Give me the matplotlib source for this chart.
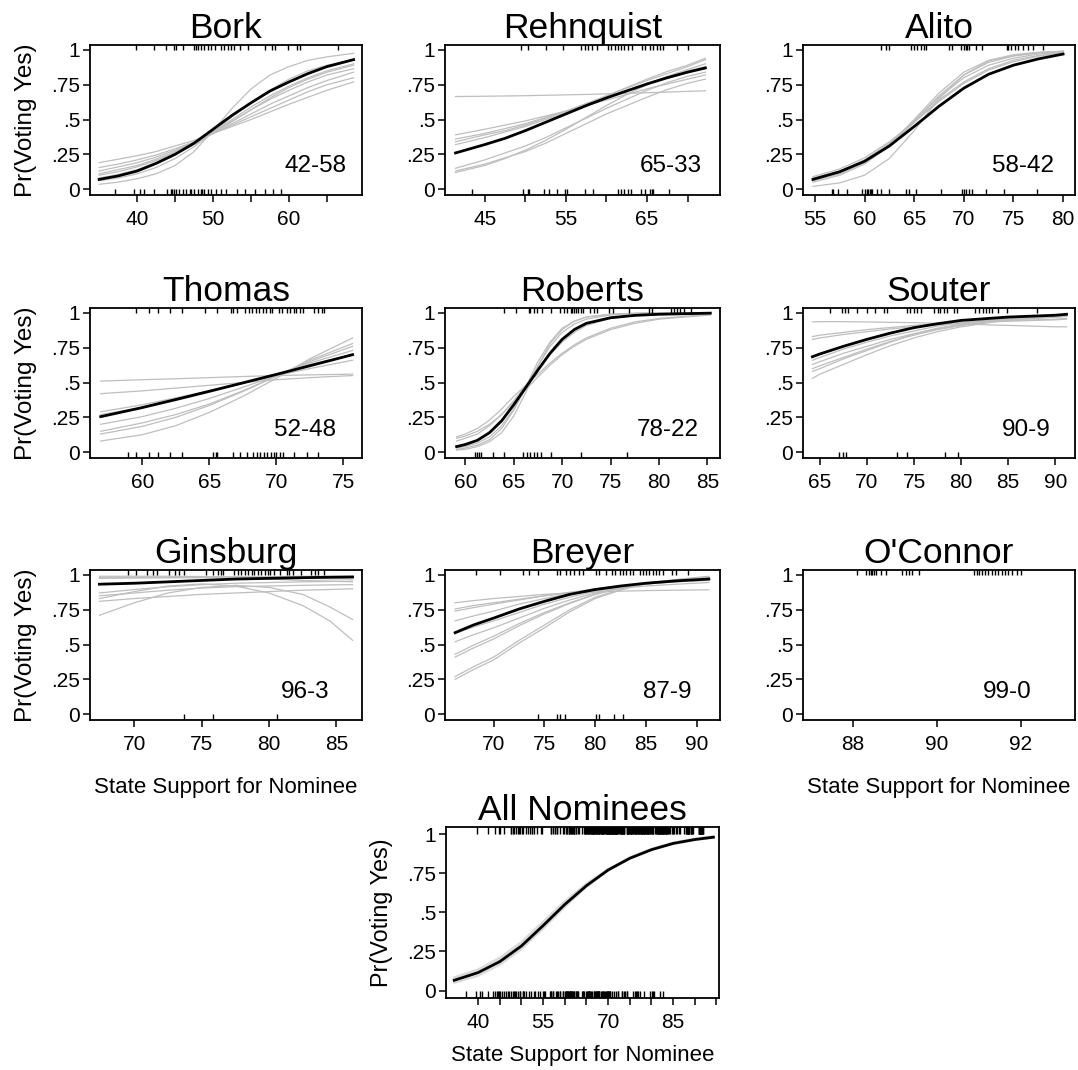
import numpy as np
import matplotlib
matplotlib.use("Agg")
import matplotlib.pyplot as plt

plt.rcParams['font.family'] = ['Liberation Sans', 'DejaVu Sans']

# ---- data ----
# Bork
bork_x = [35, 37.5, 40, 42.5, 45, 47.5, 50, 52.5, 55, 57.5, 60, 62.5, 65, 68.5]
bork_black = [0.07, 0.095, 0.13, 0.185, 0.25, 0.33, 0.43, 0.53, 0.62, 0.705, 0.77, 0.83, 0.88, 0.93]
bork_grey = [
    [0.035, 0.05, 0.075, 0.11, 0.17, 0.27, 0.42, 0.58, 0.72, 0.82, 0.88, 0.925, 0.95, 0.975],
    [0.06, 0.08, 0.11, 0.155, 0.22, 0.305, 0.41, 0.52, 0.62, 0.71, 0.79, 0.85, 0.89, 0.93],
    [0.08, 0.105, 0.14, 0.19, 0.25, 0.32, 0.41, 0.50, 0.59, 0.67, 0.74, 0.80, 0.85, 0.90],
    [0.10, 0.125, 0.16, 0.205, 0.26, 0.325, 0.40, 0.485, 0.57, 0.655, 0.73, 0.79, 0.84, 0.89],
    [0.11, 0.14, 0.17, 0.215, 0.27, 0.335, 0.41, 0.49, 0.57, 0.645, 0.71, 0.77, 0.82, 0.865],
    [0.13, 0.16, 0.19, 0.23, 0.28, 0.335, 0.40, 0.47, 0.54, 0.61, 0.67, 0.73, 0.78, 0.84],
    [0.155, 0.18, 0.21, 0.245, 0.29, 0.34, 0.40, 0.46, 0.52, 0.58, 0.64, 0.70, 0.75, 0.80],
    [0.19, 0.215, 0.24, 0.27, 0.31, 0.35, 0.40, 0.45, 0.50, 0.555, 0.61, 0.66, 0.71, 0.77],
]
bork_yes = [39.8, 42.2, 43.8, 44.9, 45.1, 46.0, 47.5, 47.7, 48.0, 48.4, 48.8, 49.3,
            49.7, 50.2, 51.1, 51.5, 51.9, 52.4, 52.8, 53.5, 54.6, 56.8, 57.7, 58.1,
            59.9, 61.0, 61.5, 66.5]
bork_no = [37.1, 39.6, 40.4, 40.9, 42.2, 44.0, 44.4, 44.6, 44.9, 45.1, 45.5, 46.0,
           46.4, 46.9, 47.1, 47.5, 48.0, 48.4, 48.6, 48.8, 49.3, 49.7, 50.4, 51.1,
           51.7, 53.1, 54.2, 55.5, 56.8, 57.9, 59.0]

# Rehnquist
rehnquist_x = [41.4, 45, 47.5, 50, 52.5, 55, 57.5, 60, 62.5, 65, 67.5, 70, 72.2]
rehnquist_black = [0.26, 0.32, 0.365, 0.42, 0.48, 0.54, 0.60, 0.655, 0.705, 0.755, 0.80, 0.84, 0.87]
rehnquist_grey = [
    [0.665, 0.667, 0.669, 0.671, 0.674, 0.677, 0.68, 0.684, 0.688, 0.692, 0.697, 0.702, 0.706],
    [0.39, 0.43, 0.46, 0.49, 0.525, 0.56, 0.60, 0.64, 0.68, 0.72, 0.755, 0.79, 0.82],
    [0.36, 0.40, 0.435, 0.47, 0.515, 0.56, 0.61, 0.66, 0.71, 0.76, 0.805, 0.85, 0.88],
    [0.34, 0.39, 0.42, 0.46, 0.51, 0.56, 0.615, 0.67, 0.725, 0.78, 0.83, 0.88, 0.93],
    [0.32, 0.37, 0.41, 0.45, 0.50, 0.55, 0.61, 0.67, 0.73, 0.79, 0.845, 0.89, 0.94],
    [0.15, 0.21, 0.26, 0.31, 0.37, 0.44, 0.51, 0.58, 0.645, 0.71, 0.765, 0.81, 0.84],
    [0.13, 0.18, 0.225, 0.27, 0.33, 0.40, 0.47, 0.54, 0.60, 0.66, 0.715, 0.76, 0.79],
    [0.12, 0.17, 0.22, 0.28, 0.35, 0.43, 0.515, 0.60, 0.68, 0.75, 0.81, 0.86, 0.90],
]
rehnquist_yes = [49.5, 50.3, 52.5, 54.7, 56.9, 57.3, 57.7, 58.2, 58.8, 60.2, 60.6,
                 61.0, 61.4, 61.8, 62.2, 62.6, 63.2, 64.4, 64.8, 65.4, 65.8, 66.2,
                 66.6, 67.0, 68.7, 70.1]
rehnquist_no = [43.4, 49.7, 50.3, 50.5, 52.3, 52.9, 53.9, 54.9, 55.1, 57.3, 58.4,
                61.4, 61.8, 62.2, 62.6, 63.0, 64.2, 64.8, 65.4, 65.6, 65.8, 67.7]

# Alito
alito_x = [54.8, 57.5, 60, 62.5, 65, 67.5, 70, 72.5, 75, 77.5, 80]
alito_black = [0.07, 0.125, 0.20, 0.31, 0.45, 0.595, 0.725, 0.825, 0.89, 0.935, 0.97]
alito_grey = [
    [0.02, 0.045, 0.10, 0.22, 0.42, 0.65, 0.82, 0.92, 0.96, 0.98, 0.99],
    [0.05, 0.10, 0.18, 0.31, 0.48, 0.66, 0.80, 0.89, 0.94, 0.97, 0.985],
    [0.07, 0.12, 0.20, 0.32, 0.49, 0.67, 0.82, 0.91, 0.955, 0.978, 0.99],
    [0.08, 0.13, 0.21, 0.33, 0.48, 0.64, 0.77, 0.865, 0.925, 0.96, 0.98],
    [0.06, 0.11, 0.19, 0.32, 0.50, 0.69, 0.84, 0.925, 0.965, 0.983, 0.99],
    [0.09, 0.145, 0.225, 0.34, 0.48, 0.63, 0.76, 0.855, 0.915, 0.955, 0.978],
]
alito_yes = [61.7, 62.2, 62.5, 64.7, 65.0, 65.3, 65.7, 66.0, 66.2, 68.5, 68.8, 69.7,
             70.0, 70.2, 70.3, 70.5, 71.2, 71.8, 74.3, 74.5, 74.8, 75.2, 75.5, 76.0,
             76.5, 77.0, 78.0]
alito_no = [56.7, 56.8, 57.3, 58.2, 59.7, 60.0, 60.2, 60.3, 60.5, 60.7, 60.8, 61.3,
            61.7, 62.5, 64.2, 64.5, 65.2, 67.7, 69.8, 70.0, 70.2, 70.5, 70.8, 72.2,
            74.0, 77.4]

# Thomas
thomas_x = [56.9, 60, 62.5, 65, 67.5, 70, 72.5, 75.7]
thomas_black = [0.255, 0.32, 0.378, 0.437, 0.497, 0.558, 0.62, 0.70]
thomas_grey = [
    [0.51, 0.52, 0.527, 0.535, 0.543, 0.55, 0.555, 0.56],
    [0.42, 0.44, 0.46, 0.48, 0.50, 0.52, 0.535, 0.55],
    [0.29, 0.34, 0.39, 0.44, 0.495, 0.55, 0.60, 0.66],
    [0.27, 0.32, 0.37, 0.43, 0.495, 0.56, 0.63, 0.70],
    [0.20, 0.255, 0.315, 0.385, 0.465, 0.55, 0.64, 0.73],
    [0.15, 0.21, 0.27, 0.345, 0.44, 0.545, 0.65, 0.76],
    [0.13, 0.185, 0.25, 0.335, 0.435, 0.545, 0.66, 0.78],
    [0.08, 0.125, 0.19, 0.285, 0.40, 0.53, 0.67, 0.82],
]
thomas_yes = [59.5, 60.5, 61.2, 62.1, 63.0, 64.7, 65.6, 66.6, 66.8, 67.1, 67.7, 68.0,
              68.2, 68.5, 68.7, 69.0, 69.2, 69.5, 69.7, 70.2, 70.4, 70.8, 71.0, 71.3,
              71.5, 71.8, 72.0, 72.8, 73.1, 73.4, 73.6]
thomas_no = [58.9, 59.5, 60.5, 61.2, 62.1, 63.0, 65.3, 65.5, 65.6, 66.8, 67.3, 67.8,
             68.3, 68.6, 68.8, 69.1, 69.3, 69.6, 69.8, 70.0, 70.3, 70.5, 71.3, 72.3,
             73.1]

# Roberts
roberts_x = [59.1, 60, 61.25, 62.5, 63.75, 65, 66.25, 67.5, 68.75, 70, 71.25, 72.5, 75, 77.5, 80, 85.3]
roberts_black = [0.04, 0.055, 0.085, 0.14, 0.225, 0.34, 0.465, 0.59, 0.71, 0.81, 0.88, 0.925,
                 0.965, 0.982, 0.99, 0.998]
roberts_grey = [
    [0.11, 0.13, 0.17, 0.23, 0.31, 0.40, 0.48, 0.56, 0.64, 0.71, 0.77, 0.82, 0.89, 0.935, 0.96, 0.99],
    [0.10, 0.115, 0.15, 0.20, 0.27, 0.36, 0.45, 0.54, 0.625, 0.70, 0.76, 0.81, 0.88, 0.925, 0.955, 0.985],
    [0.08, 0.10, 0.13, 0.19, 0.27, 0.37, 0.48, 0.59, 0.70, 0.79, 0.86, 0.91, 0.96, 0.98, 0.99, 1.0],
    [0.03, 0.04, 0.065, 0.11, 0.19, 0.31, 0.46, 0.62, 0.76, 0.86, 0.92, 0.955, 0.985, 0.995, 0.998, 1.0],
    [0.02, 0.03, 0.05, 0.09, 0.17, 0.30, 0.47, 0.65, 0.79, 0.89, 0.94, 0.97, 0.99, 0.997, 1.0, 1.0],
    [0.015, 0.02, 0.04, 0.075, 0.14, 0.26, 0.43, 0.62, 0.78, 0.88, 0.94, 0.97, 0.99, 0.997, 1.0, 1.0],
]
roberts_yes = [64.0, 65.2, 66.6, 66.7, 67.1, 67.4, 67.9, 68.8, 69.8, 70.2, 70.5, 70.9,
               71.0, 71.2, 71.4, 71.6, 71.9, 72.2, 72.9, 73.3, 73.6, 74.8, 75.3, 76.9,
               79.0, 79.3, 81.2, 81.6, 81.9, 82.2, 82.6, 83.3]
roberts_no = [61.0, 61.2, 61.4, 61.6, 62.9, 64.0, 66.0, 66.4, 66.7, 67.1, 67.4, 67.8,
              68.8, 71.9, 76.7]

# Souter
souter_x = [64.2, 65, 67.5, 70, 72.5, 75, 77.5, 80, 85, 90, 91.2]
souter_black = [0.685, 0.705, 0.76, 0.81, 0.855, 0.894, 0.922, 0.946, 0.97, 0.983, 0.99]
souter_grey = [
    [0.935, 0.937, 0.937, 0.935, 0.932, 0.93, 0.925, 0.92, 0.91, 0.90, 0.90],
    [0.83, 0.84, 0.86, 0.88, 0.895, 0.91, 0.92, 0.93, 0.945, 0.955, 0.96],
    [0.81, 0.82, 0.845, 0.865, 0.885, 0.90, 0.915, 0.925, 0.94, 0.95, 0.955],
    [0.66, 0.68, 0.74, 0.79, 0.835, 0.87, 0.905, 0.93, 0.96, 0.975, 0.98],
    [0.63, 0.65, 0.71, 0.76, 0.81, 0.85, 0.885, 0.91, 0.95, 0.97, 0.975],
    [0.60, 0.62, 0.68, 0.74, 0.795, 0.84, 0.88, 0.91, 0.955, 0.975, 0.98],
    [0.58, 0.60, 0.67, 0.73, 0.79, 0.85, 0.89, 0.92, 0.96, 0.98, 0.985],
    [0.53, 0.56, 0.63, 0.70, 0.765, 0.82, 0.865, 0.90, 0.95, 0.97, 0.975],
]
souter_yes = [66.1, 67.3, 67.7, 68.0, 68.9, 70.0, 70.9, 71.8, 72.1, 74.3, 74.6, 75.0,
              75.3, 75.7, 77.1, 77.5, 77.8, 78.2, 78.5, 79.2, 79.6, 81.5, 81.9, 82.3,
              82.6, 83.0, 83.3, 83.9, 84.9, 88.1]
souter_no = [67.0, 67.5, 67.8, 73.2, 74.3, 78.3, 79.7]

# Ginsburg
ginsburg_x = [67.4, 70, 72.5, 75, 77.5, 80, 82.5, 84.5, 86.2]
ginsburg_black = [0.933, 0.94, 0.95, 0.96, 0.97, 0.975, 0.98, 0.983, 0.985]
ginsburg_grey = [
    [0.71, 0.80, 0.87, 0.91, 0.925, 0.91, 0.86, 0.77, 0.68],
    [0.83, 0.88, 0.92, 0.935, 0.92, 0.87, 0.78, 0.67, 0.53],
    [0.81, 0.83, 0.845, 0.86, 0.87, 0.88, 0.89, 0.895, 0.90],
    [0.85, 0.87, 0.89, 0.905, 0.915, 0.92, 0.925, 0.928, 0.93],
    [0.87, 0.895, 0.915, 0.93, 0.94, 0.945, 0.95, 0.953, 0.955],
    [0.98, 0.98, 0.98, 0.98, 0.975, 0.97, 0.96, 0.955, 0.95],
    [0.99, 0.99, 0.99, 0.988, 0.985, 0.98, 0.975, 0.972, 0.97],
    [0.975, 0.978, 0.98, 0.982, 0.985, 0.987, 0.99, 0.99, 0.99],
]
ginsburg_yes = [69.5, 70.1, 70.9, 71.4, 71.7, 72.6, 73.0, 73.3, 73.7, 75.3, 75.8, 76.2,
                76.4, 76.6, 77.4, 77.7, 77.9, 78.2, 78.4, 78.7, 78.9, 79.2, 79.4, 79.7,
                79.9, 80.1, 80.4, 80.8, 81.3, 81.5, 81.8, 82.4, 83.1, 83.4, 83.6, 84.1]
ginsburg_no = [73.7, 75.8, 80.6]

# Breyer
breyer_x = [66.2, 68, 70, 72.5, 75, 77.5, 80, 82.5, 85, 88, 91.2]
breyer_black = [0.585, 0.64, 0.69, 0.755, 0.81, 0.86, 0.895, 0.92, 0.94, 0.957, 0.97]
breyer_grey = [
    [0.80, 0.815, 0.83, 0.845, 0.86, 0.87, 0.877, 0.883, 0.887, 0.89, 0.893],
    [0.755, 0.78, 0.80, 0.825, 0.85, 0.87, 0.89, 0.905, 0.92, 0.933, 0.945],
    [0.74, 0.765, 0.79, 0.82, 0.85, 0.875, 0.90, 0.918, 0.935, 0.95, 0.96],
    [0.67, 0.705, 0.74, 0.79, 0.83, 0.865, 0.89, 0.915, 0.935, 0.952, 0.965],
    [0.58, 0.625, 0.67, 0.73, 0.79, 0.84, 0.88, 0.91, 0.935, 0.955, 0.97],
    [0.52, 0.57, 0.62, 0.69, 0.76, 0.82, 0.87, 0.905, 0.935, 0.955, 0.97],
    [0.43, 0.495, 0.56, 0.65, 0.73, 0.80, 0.86, 0.905, 0.94, 0.96, 0.975],
    [0.41, 0.475, 0.54, 0.635, 0.72, 0.795, 0.86, 0.905, 0.935, 0.96, 0.98],
    [0.27, 0.34, 0.41, 0.53, 0.64, 0.75, 0.84, 0.895, 0.94, 0.965, 0.985],
    [0.25, 0.32, 0.39, 0.51, 0.62, 0.735, 0.83, 0.89, 0.94, 0.967, 0.99],
]
breyer_yes = [68.3, 70.6, 72.9, 73.5, 74.4, 76.2, 76.5, 77.1, 77.5, 77.9, 78.4, 78.8,
              80.1, 80.4, 81.1, 81.7, 82.0, 82.4, 82.7, 83.0, 83.4, 83.7, 84.4, 84.7,
              85.0, 85.3, 85.7, 86.0, 86.3, 86.7, 87.6, 88.0, 89.1]
breyer_no = [74.4, 76.2, 76.5, 77.0, 80.1, 80.4, 81.9, 82.7]

# O'Connor (unanimous, no curve)
oconnor_yes = [88.08, 88.3, 88.38, 88.42, 88.46, 88.5, 88.54, 88.66, 88.78, 89.17,
               89.25, 89.33, 89.41, 89.57, 90.88, 90.96, 91.0, 91.08, 91.15, 91.23,
               91.31, 91.39, 91.47, 91.55, 91.63, 91.71, 91.79, 91.91, 92.02]
oconnor_no = []

# All nominees pooled
all_x = [34.5, 40, 45, 50, 55, 60, 65, 70, 75, 80, 85, 90, 94.3]
all_black = [0.066, 0.115, 0.185, 0.285, 0.415, 0.55, 0.67, 0.77, 0.845, 0.90, 0.94, 0.965, 0.98]
all_grey = [
    [0.085, 0.135, 0.21, 0.31, 0.44, 0.57, 0.683, 0.776, 0.847, 0.90, 0.937, 0.962, 0.977],
    [0.05, 0.095, 0.165, 0.265, 0.395, 0.535, 0.662, 0.768, 0.85, 0.905, 0.945, 0.97, 0.985],
    [0.075, 0.125, 0.198, 0.298, 0.428, 0.562, 0.677, 0.773, 0.848, 0.903, 0.942, 0.967, 0.982],
]
all_yes = (bork_yes + rehnquist_yes + alito_yes + thomas_yes + roberts_yes
           + souter_yes + ginsburg_yes + breyer_yes + oconnor_yes)
all_no = (bork_no + rehnquist_no + alito_no + thomas_no + roberts_no
          + souter_no + ginsburg_no + breyer_no + oconnor_no)

votes = {"Bork": "42-58", "Rehnquist": "65-33", "Alito": "58-42",
         "Thomas": "52-48", "Roberts": "78-22", "Souter": "90-9",
         "Ginsburg": "96-3", "Breyer": "87-9", "O'Connor": "99-0",
         "All Nominees": None}

ytick_vals = [0, 0.25, 0.5, 0.75, 1]
ytick_labels = ["0", ".25", ".5", ".75", "1"]

# ---- layout (pixels in a 1078x1070 figure) ----
W, H = 1078, 1070
fig = plt.figure(figsize=(W / 100, H / 100), dpi=100)

def px_axes(left, top, right, bottom):
    return fig.add_axes([left / W, 1 - bottom / H, (right - left) / W, (bottom - top) / H])

cols = [(90, 362), (445, 720), (803, 1075)]
rows = [(45, 195), (308, 458), (570, 720)]

panels = [
    ("Bork", bork_x, bork_black, bork_grey, bork_yes, bork_no,
     (33.8, 69.6), np.arange(40, 66, 5), [40, 50, 60]),
    ("Rehnquist", rehnquist_x, rehnquist_black, rehnquist_grey, rehnquist_yes, rehnquist_no,
     (40.1, 74.0), np.arange(45, 71, 5), [45, 55, 65]),
    ("Alito", alito_x, alito_black, alito_grey, alito_yes, alito_no,
     (53.8, 81.2), np.arange(55, 81, 5), None),
    ("Thomas", thomas_x, thomas_black, thomas_grey, thomas_yes, thomas_no,
     (56.1, 76.4), np.arange(60, 76, 5), None),
    ("Roberts", roberts_x, roberts_black, roberts_grey, roberts_yes, roberts_no,
     (57.9, 86.3), np.arange(60, 86, 5), None),
    ("Souter", souter_x, souter_black, souter_grey, souter_yes, souter_no,
     (63.2, 92.1), np.arange(65, 91, 5), None),
    ("Ginsburg", ginsburg_x, ginsburg_black, ginsburg_grey, ginsburg_yes, ginsburg_no,
     (66.7, 86.9), np.arange(70, 86, 5), None),
    ("Breyer", breyer_x, breyer_black, breyer_grey, breyer_yes, breyer_no,
     (65.2, 92.3), np.arange(70, 91, 5), None),
    ("O'Connor", None, None, [], oconnor_yes, oconnor_no,
     (86.8, 93.3), [88, 90, 92], None),
    ("All Nominees", all_x, all_black, all_grey, all_yes, all_no,
     (32.6, 95.6), np.arange(40, 96, 5), [40, 55, 70, 85]),
]

GREY = "#bebebe"
# horizontal centre of the vote-count label, in axes fraction
text_x = {"Bork": 0.83, "Rehnquist": 0.82, "Alito": 0.81, "Thomas": 0.79,
          "Roberts": 0.81, "Souter": 0.82, "Ginsburg": 0.79, "Breyer": 0.81,
          "O'Connor": 0.75}

for i, (name, x, black, greys, yes, no, xlim, xticks, xlabeled) in enumerate(panels):
    if i < 9:
        left, right = cols[i % 3]
        top, bottom = rows[i // 3]
        ylim = (-0.042, 1.035)
    else:
        left, right, top, bottom = 446, 719, 827, 998
        ylim = (-0.047, 1.045)
    ax = px_axes(left, top, right, bottom)

    gcol = "#dadada" if name == "All Nominees" else GREY
    glw = 1.6 if name == "All Nominees" else 0.9
    for g in greys:
        ax.plot(x, g, color=gcol, lw=glw, zorder=2)
    if black is not None:
        ax.plot(x, black, color="black", lw=2.0, zorder=3, solid_joinstyle="round")

    # rugs: yes votes at top, no votes at bottom
    if yes:
        ax.vlines(yes, 1.0, ylim[1], color="black", lw=1.0, zorder=4)
    if no:
        ax.vlines(no, ylim[0], 0.0, color="black", lw=1.0, zorder=4)

    ax.set_xlim(*xlim)
    ax.set_ylim(*ylim)
    ax.set_xticks(xticks)
    if xlabeled is None:
        ax.set_xticklabels([str(int(t)) for t in xticks])
    else:
        ax.set_xticklabels([str(int(t)) if t in xlabeled else "" for t in xticks])
    ax.set_yticks(ytick_vals)
    ax.set_yticklabels(ytick_labels)
    ax.tick_params(axis="both", direction="out", length=5, width=1.1,
                   labelsize=15, pad=2)
    ax.tick_params(axis="x", pad=6)
    for sp in ax.spines.values():
        sp.set_linewidth(1.3)

    ax.set_title(name, fontsize=25.5, pad=5)
    if votes[name]:
        ax.text(text_x[name], 0.19, votes[name], transform=ax.transAxes,
                ha="center", va="center", fontsize=17.5)

    if name in ("Bork", "Thomas", "Ginsburg"):
        ax.set_ylabel("Pr(Voting Yes)", fontsize=17.5, labelpad=10)
    if name == "All Nominees":
        ax.set_ylabel("Pr(Voting Yes)", fontsize=16.8, labelpad=10)
    if name in ("Ginsburg", "O'Connor"):
        ax.set_xlabel("State Support for Nominee", fontsize=16, labelpad=16)
    if name == "All Nominees":
        ax.set_xlabel("State Support for Nominee", fontsize=16, labelpad=9)

fig.savefig("out.png", dpi=100, facecolor="white")
